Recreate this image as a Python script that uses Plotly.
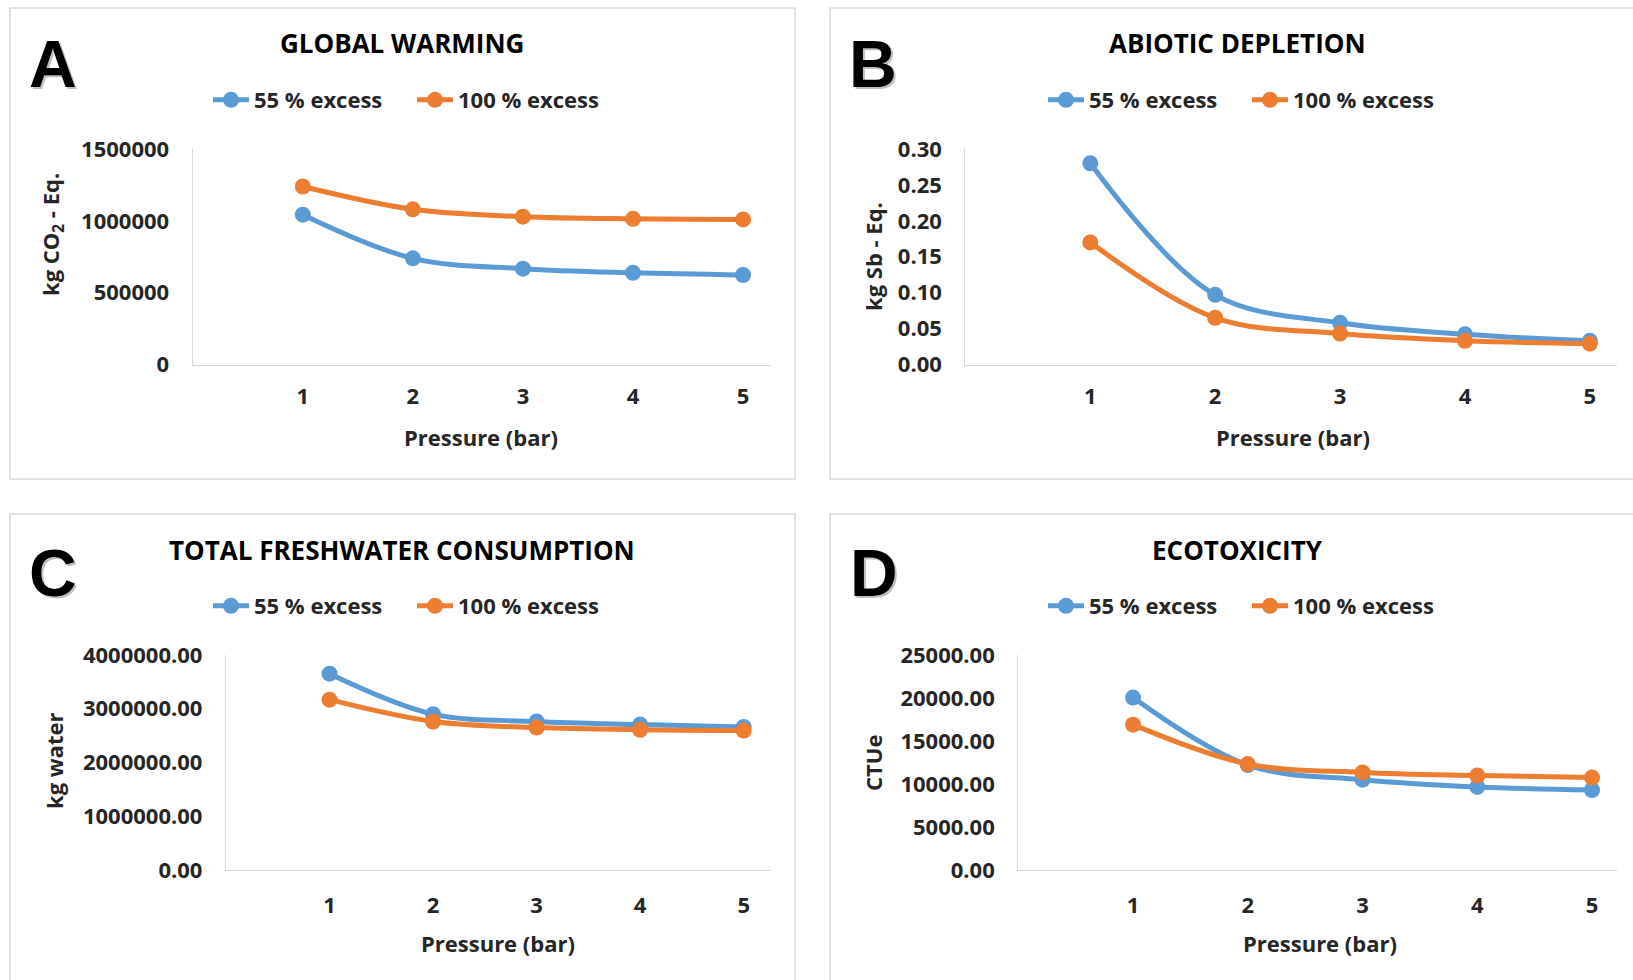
import plotly.graph_objects as go

W, H = 1633, 980

pressure = [1, 2, 3, 4, 5]
series_names = ["55 % excess", "100 % excess"]

gw_55 = [1043000, 739000, 667000, 638000, 623000]
gw_100 = [1239000, 1080000, 1029000, 1014000, 1010000]

ad_55 = [0.280, 0.097, 0.058, 0.042, 0.033]
ad_100 = [0.170, 0.065, 0.043, 0.033, 0.029]

fw_55 = [3652000, 2899000, 2763000, 2705000, 2660000]
fw_100 = [3169000, 2763000, 2650000, 2609000, 2595000]

eco_55 = [20050, 12200, 10500, 9660, 9300]
eco_100 = [16900, 12320, 11350, 10990, 10750]

titles = ["GLOBAL WARMING", "ABIOTIC DEPLETION", "TOTAL FRESHWATER CONSUMPTION", "ECOTOXICITY"]
letters = ["A", "B", "C", "D"]
y_titles = ["kg CO<sub>2</sub> - Eq.", "kg Sb - Eq.", "kg water", "CTUe"]
x_title = "Pressure (bar)"

y_ticks = [
    [0, 500000, 1000000, 1500000],
    [0, 0.05, 0.10, 0.15, 0.20, 0.25, 0.30],
    [0, 1000000, 2000000, 3000000, 4000000],
    [0, 5000, 10000, 15000, 20000, 25000],
]
y_formats = ["d", ".2f", ".2f", ".2f"]

data = [(gw_55, gw_100), (ad_55, ad_100), (fw_55, fw_100), (eco_55, eco_100)]

BLUE = "#5B9BD5"
ORANGE = "#ED7D31"
FONT = "Open Sans"

# plot areas in pixels: (x0, x1, ytop, ybottom)
areas = [
    (192.7, 770.6, 149, 364.5),
    (965.4, 1617.3, 149, 364.5),
    (226.0, 770.6, 655, 870.0),
    (1018.3, 1617.3, 655, 870.0),
]
xmax = [5.25, 5.22, 5.26, 5.22]
x_standoff = [12, 12, 15, 15]

def px(x):
    return x / W

def py(y):
    return 1 - y / H

fig = go.Figure()

for i, (s55, s100) in enumerate(data):
    n = i + 1
    xa = "x" if n == 1 else f"x{n}"
    ya = "y" if n == 1 else f"y{n}"
    lg = "legend" if n == 1 else f"legend{n}"
    for vals, name, col in ((s55, series_names[0], BLUE), (s100, series_names[1], ORANGE)):
        fig.add_trace(go.Scatter(
            x=pressure, y=vals, name=name, mode="lines+markers",
            line=dict(color=col, width=5, shape="spline", smoothing=1.0),
            marker=dict(color=col, size=16),
            xaxis=xa, yaxis=ya, legend=lg, showlegend=True,
        ))
    x0, x1, yt, yb = areas[i]
    axis_common = dict(showgrid=False, zeroline=False, showline=True,
                       linecolor="#d9d9d9", linewidth=1.3, ticks="",
                       tickfont=dict(family=FONT, size=22, color="#262626", weight="bold"))
    fig.layout[f"xaxis{'' if n == 1 else n}"] = dict(
        domain=[px(x0), px(x1)], anchor=ya,
        range=[0, xmax[i]], tickvals=pressure, ticktext=[str(p) for p in pressure],
        ticklabelstandoff=x_standoff[i], **axis_common)
    fig.layout[f"yaxis{'' if n == 1 else n}"] = dict(
        domain=[py(yb), py(yt)], anchor=xa,
        range=[0, y_ticks[i][-1]], tickvals=y_ticks[i], tickformat=y_formats[i],
        ticklabelstandoff=18, **axis_common)

# legends
legend_pos = [(208, 100), (1043, 100), (208, 606), (1043, 606)]
for i, (lx, ly) in enumerate(legend_pos):
    key = "legend" if i == 0 else f"legend{i+1}"
    fig.layout[key] = dict(
        x=px(lx), y=py(ly), xanchor="left", yanchor="middle",
        orientation="h", bgcolor="rgba(0,0,0,0)", borderwidth=0,
        font=dict(family=FONT, size=22, color="#262626", weight="bold"),
        itemwidth=36,
        entrywidth=153, entrywidthmode="pixels", itemclick=False,
    )

annotations = []
title_pos = [(402, 43), (1237, 43), (402, 550), (1237, 550)]
letter_pos = [(53, 64), (873, 64), (53, 573), (874, 573)]
ytitle_pos = [(52, 235), (873, 257), (54, 761), (873, 763)]
xtitle_pos = [(481, 437), (1293, 437), (498, 943), (1320, 943)]
for i in range(4):
    tx, ty = title_pos[i]
    annotations.append(dict(text=titles[i], x=px(tx), y=py(ty), xref="paper", yref="paper",
                            showarrow=False, xanchor="center", yanchor="middle",
                            font=dict(family=FONT, size=26, color="#000000", weight="bold")))
    lx, ly = letter_pos[i]
    annotations.append(dict(text=letters[i], x=px(lx + 2), y=py(ly + 2), xref="paper", yref="paper",
                            showarrow=False, xanchor="center", yanchor="middle",
                            font=dict(family="Liberation Sans", size=66, color="rgba(0,0,0,0.25)", weight="bold")))
    annotations.append(dict(text=letters[i], x=px(lx), y=py(ly), xref="paper", yref="paper",
                            showarrow=False, xanchor="center", yanchor="middle",
                            font=dict(family="Liberation Sans", size=66, color="#000000", weight="bold")))
    yx, yy = ytitle_pos[i]
    annotations.append(dict(text=y_titles[i], x=px(yx), y=py(yy), xref="paper", yref="paper",
                            showarrow=False, xanchor="center", yanchor="middle", textangle=-90,
                            font=dict(family=FONT, size=22, color="#262626", weight="bold")))
    xx, xy = xtitle_pos[i]
    annotations.append(dict(text=x_title, x=px(xx), y=py(xy), xref="paper", yref="paper",
                            showarrow=False, xanchor="center", yanchor="middle",
                            font=dict(family=FONT, size=22, color="#262626", weight="bold")))

# panel borders
borders = [(10, 8, 795, 479), (830, 8, 1660, 479), (10, 514, 795, 1000), (830, 514, 1660, 1000)]
shapes = []
for (bx0, by0, bx1, by1) in borders:
    shapes.append(dict(type="rect", xref="paper", yref="paper",
                       x0=px(bx0), x1=px(bx1), y0=py(by1), y1=py(by0),
                       line=dict(color="#d9d9d9", width=1.5), fillcolor="rgba(0,0,0,0)", layer="below"))

fig.update_layout(
    width=W, height=H, margin=dict(l=0, r=0, t=0, b=0, pad=0, autoexpand=False),
    paper_bgcolor="white", plot_bgcolor="white",
    annotations=annotations, shapes=shapes,
    font=dict(family=FONT),
)

post = ("var de=document.documentElement, b=document.body;"
        "de.style.margin='0';b.style.margin='0';b.style.padding='0';"
        "de.style.overflow='hidden';b.style.overflow='hidden';"
        "var d=document.querySelector('.plotly-graph-div');"
        "if(d){d.style.position='fixed';d.style.left='0px';d.style.top='0px';"
        "if(d.parentElement){d.parentElement.style.height='0px';d.parentElement.style.overflow='visible';}}")
fig.write_html("out.html", post_script=post, config={"displayModeBar": False})
